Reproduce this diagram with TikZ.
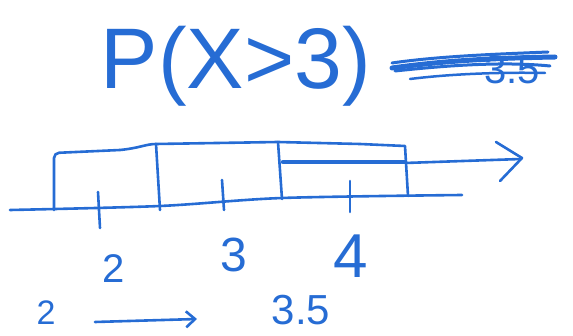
\documentclass[tikz,border=0pt]{standalone}
\usepackage{fontspec}
\setmainfont{Liberation Sans}
\usetikzlibrary{arrows.meta}
\definecolor{ink}{RGB}{38,108,212}
\begin{document}
\begin{tikzpicture}[x=1pt,y=-1pt,
  pen/.style={draw=ink,line width=2.6pt,line cap=round,line join=round},
  hand/.style={text=ink,inner sep=0pt,anchor=base}]
\useasboundingbox (0,0) rectangle (573,336);
% title
\node[hand,font=\fontsize{86}{90}\selectfont] (title) at (236,89) {P(X>3)};
% scribbled-out 3.5
\node[hand,font=\fontsize{40}{44}\selectfont] (scr) at (512,84) {3.5};
\draw[pen,line width=5pt] (392,68) .. controls (450,60) and (500,58) .. (555,57);
\draw[pen,line width=3pt] (395,71) .. controls (460,64) and (510,62) .. (550,66);
\draw[pen,line width=3pt] (392,63) .. controls (440,56) and (500,54) .. (548,52);
\draw[pen,line width=2.5pt] (410,79) .. controls (450,74) and (500,72) .. (545,73);
% axis
\draw[pen] plot[smooth] coordinates {(10,210) (160,206) (282,198) (462,195)};
% boxes
\draw[pen,rounded corners=5pt] (54,210) -- (54,153) -- (120,150);
\draw[pen] (120,150) .. controls (140,148) and (146,144) .. (156,144);
\draw[pen] (156,144) -- (278,142) -- (360,144) -- (405,146) -- (408,196);
\draw[pen] (156,144) -- (160,210);
\draw[pen] (278,142) -- (282,199);
% shaded upper region line + arrow
\draw[pen,line width=4.5pt] (283,162) -- (405,162);
\draw[pen] (405,163) -- (521,159);
\draw[pen] (496,142) -- (522,158) -- (500,181);
% ticks
\draw[pen] (98,192) -- (100,228);
\draw[pen] (222,180) -- (224,210);
\draw[pen] (350,181) -- (350,212);
% tick labels
\node[hand,font=\fontsize{40}{44}\selectfont] (l2) at (114,283) {2};
\node[hand,font=\fontsize{48}{52}\selectfont] (l3) at (234,272) {3};
\node[hand,font=\fontsize{62}{66}\selectfont] (l4) at (351,278) {4};
% bottom row
\node[hand,font=\fontsize{34}{38}\selectfont] (b2) at (46,325) {2};
\node[hand,font=\fontsize{42}{46}\selectfont] (b35) at (301,325) {3.5};
\coordinate (as) at (95,322);
\coordinate (ae) at (197,319);
\draw[pen,-{Straight Barb[length=9pt,width=16pt]}] (as) -- (ae);
\end{tikzpicture}
\end{document}
